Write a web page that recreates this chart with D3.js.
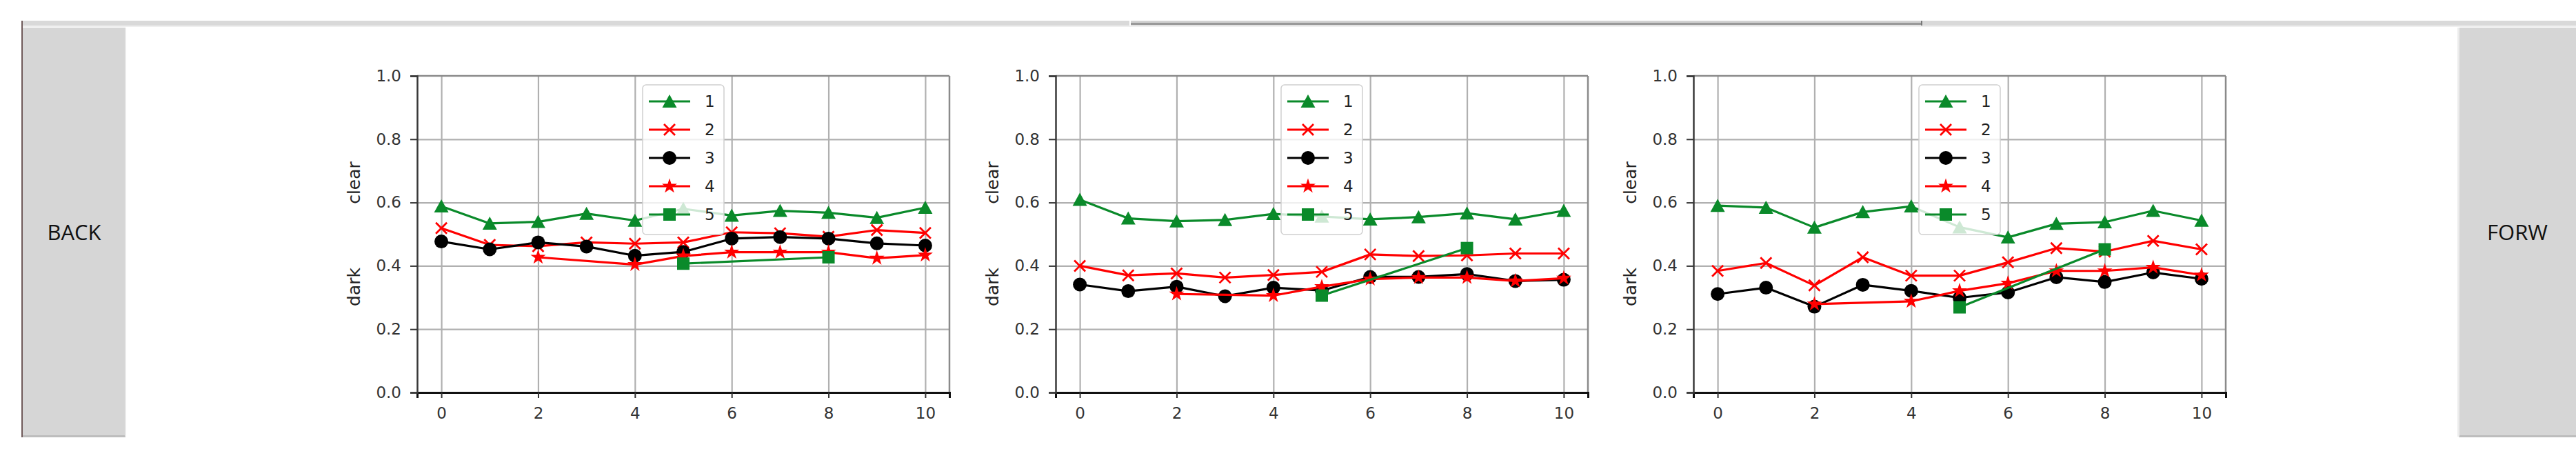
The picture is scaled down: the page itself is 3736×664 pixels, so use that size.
<!DOCTYPE html>
<html>
<head>
<meta charset="utf-8">
<script src="https://cdn.jsdelivr.net/npm/d3@7"></script>
<style>
body{margin:0;background:#fff;overflow:hidden}
text{font-family:"DejaVu Sans",sans-serif}
.btn{font-family:"Open Sans",sans-serif}
</style>
</head>
<body>
<svg id="page" width="3736" height="664"></svg>
<script>
// x positions of each series
const xAll = [0,1,2,3,4,5,6,7,8,9,10];
const xStar = [2,4,5,6,7,8,9,10];
const xSquare = [5,8];
const xTicks = [0,2,4,6,8,10];
const yTicks = [0,0.2,0.4,0.6,0.8,1.0];
const legendLabels = ["1","2","3","4","5"];

// panel 1
const p1s1 = [0.588,0.534,0.539,0.565,0.543,0.580,0.559,0.574,0.568,0.552,0.584];
const p1s2 = [0.519,0.466,0.462,0.474,0.470,0.474,0.506,0.503,0.492,0.513,0.504];
const p1s3 = [0.477,0.452,0.474,0.461,0.432,0.444,0.486,0.491,0.486,0.471,0.464];
const p1s4 = [0.427,0.404,0.431,0.443,0.443,0.443,0.424,0.434];
const p1s5 = [0.407,0.427];
// panel 2
const p2s1 = [0.609,0.550,0.541,0.545,0.564,0.556,0.547,0.554,0.566,0.547,0.574];
const p2s2 = [0.400,0.370,0.376,0.363,0.371,0.381,0.436,0.431,0.433,0.439,0.439];
const p2s3 = [0.341,0.320,0.334,0.304,0.331,0.322,0.365,0.365,0.374,0.352,0.356];
const p2s4 = [0.311,0.306,0.334,0.358,0.363,0.363,0.352,0.361];
const p2s5 = [0.306,0.456];
// panel 3
const p3s1 = [0.590,0.584,0.521,0.570,0.588,0.522,0.490,0.533,0.538,0.574,0.543];
const p3s2 = [0.384,0.409,0.338,0.427,0.369,0.369,0.411,0.456,0.445,0.479,0.452];
const p3s3 = [0.311,0.331,0.271,0.340,0.321,0.299,0.316,0.364,0.349,0.379,0.359];
const p3s4 = [0.279,0.288,0.321,0.345,0.384,0.384,0.395,0.371];
const p3s5 = [0.269,0.452];

const panels = [[p1s1,p1s2,p1s3,p1s4,p1s5],[p2s1,p2s2,p2s3,p2s4,p2s5],[p3s1,p3s2,p3s3,p3s4,p3s5]];
const xsBySeries = [xAll,xAll,xAll,xStar,xSquare];

// styles
const green = "#0a8a2a", red = "#ff0000";
const colors = [green,red,"#000",red,green];
const markers = ["triangle","x","circle","star","square"];

let svg = d3.select("#page");

/* window chrome */
svg.append("rect").attr("x",32).attr("y",30).attr("width",3704).attr("height",7).attr("fill","#d9d9d9");
svg.append("rect").attr("x",32).attr("y",37).attr("width",3704).attr("height",2).attr("fill","#efefef");
svg.append("rect").attr("x",1638).attr("y",30).attr("width",2).attr("height",7).attr("fill","#fff");
svg.append("rect").attr("x",1640).attr("y",30).attr("width",1147).attr("height",3).attr("fill","#d2d2d2");
svg.append("rect").attr("x",1640).attr("y",33).attr("width",1147).attr("height",3).attr("fill","#999");
svg.append("rect").attr("x",2786).attr("y",30).attr("width",2).attr("height",7).attr("fill","#777");

function button(x,w,label){
  svg.append("rect").attr("x",x).attr("y",40).attr("width",w).attr("height",593).attr("fill","#d6d6d6");
  svg.append("rect").attr("x",x).attr("y",631).attr("width",w).attr("height",3).attr("fill","#bdbdbd");
  svg.append("text").attr("class","btn").attr("x",x+w/2).attr("y",336)
    .attr("text-anchor","middle").attr("dominant-baseline","central")
    .attr("font-size",31).attr("fill","#111").text(label);
}
button(33,149,"BACK");
svg.append("rect").attr("x",181).attr("y",40).attr("width",2).attr("height",593).attr("fill","#e9e9e9");
svg.append("rect").attr("x",31).attr("y",30).attr("width",2).attr("height",604).attr("fill","#6f5a5a");
button(3566,170,"FORW");
svg.append("rect").attr("x",3564).attr("y",40).attr("width",3).attr("height",593).attr("fill","#ececec");

/* charts */
const lefts = [605,1531,2456];
const W = 772, plotTop = 110, H = 459;
const lineW = 3.2;

function drawMarker(g,type,color){
  if(type=="circle") g.append("circle").attr("r",10).attr("fill",color);
  else if(type=="x") g.append("path").attr("d","M-8,-8L8,8M-8,8L8,-8").attr("stroke",color).attr("stroke-width",2.8).attr("fill","none");
  else if(type=="triangle") g.append("path").attr("d","M0,-10L10.5,9L-10.5,9Z").attr("fill",color);
  else if(type=="square") g.append("rect").attr("x",-9).attr("y",-9).attr("width",18).attr("height",18).attr("fill",color);
  else g.append("path").attr("d",d3.symbol(d3.symbolStar,150)()).attr("fill",color);
}

panels.forEach((series,pi)=>{
  let g = svg.append("g").attr("transform","translate("+lefts[pi]+","+plotTop+")");
  let x = d3.scaleLinear().domain([-0.5,10.5]).range([0,W]);
  let y = d3.scaleLinear().domain([0,1]).range([H,0]);

  // grid
  let gx = g.append("g").call(d3.axisBottom(x).tickValues(xTicks).tickSize(H).tickFormat(""));
  let gy = g.append("g").call(d3.axisLeft(y).tickValues(yTicks.slice(1,5)).tickSize(-W).tickFormat(""));
  [gx,gy].forEach(a=>{a.select(".domain").remove();a.selectAll("line").attr("stroke","#b0b0b0").attr("stroke-width",2.2);});

  // lines + markers
  series.forEach((vals,si)=>{
    let pts = vals.map((v,k)=>[xsBySeries[si][k],v]);
    g.append("path").datum(pts).attr("fill","none").attr("stroke",colors[si]).attr("stroke-width",lineW)
      .attr("stroke-linejoin","round")
      .attr("d",d3.line().x(d=>x(d[0])).y(d=>y(d[1])));
    pts.forEach(d=>{
      let m = g.append("g").attr("transform","translate("+x(d[0])+","+y(d[1])+")");
      drawMarker(m,markers[si],colors[si]);
    });
  });

  // spines
  g.append("line").attr("x1",0).attr("x2",W).attr("y1",0).attr("y2",0).attr("stroke","#8a8a8a").attr("stroke-width",2.5);
  g.append("line").attr("x1",W).attr("x2",W).attr("y1",0).attr("y2",H).attr("stroke","#8a8a8a").attr("stroke-width",2.5);

  // axes
  let ax = g.append("g").attr("transform","translate(0,"+H+")")
    .call(d3.axisBottom(x).tickValues(xTicks).tickSize(8).tickPadding(14).tickFormat(d3.format("d")));
  let ay = g.append("g").call(d3.axisLeft(y).tickValues(yTicks).tickSize(10).tickPadding(13).tickFormat(d3.format(".1f")));
  [ax,ay].forEach(a=>{
    a.selectAll("text").attr("font-size",23).attr("fill","#333").attr("font-family","DejaVu Sans");
    a.selectAll(".tick line").attr("stroke","#333").attr("stroke-width",2);
  });
  ax.select(".domain").attr("stroke","#111").attr("stroke-width",3);
  ay.select(".domain").attr("stroke","#3a3a3a").attr("stroke-width",2.5);

  // y labels
  g.append("text").attr("transform","translate(-83,155) rotate(-90)").attr("text-anchor","middle")
    .attr("font-size",25).attr("fill","#222").text("clear");
  g.append("text").attr("transform","translate(-83,306) rotate(-90)").attr("text-anchor","middle")
    .attr("font-size",25).attr("fill","#222").text("dark");

  // legend
  let lg = g.append("g").attr("transform","translate("+(W/2-59)+",13)");
  lg.append("rect").attr("width",118).attr("height",217).attr("rx",5)
    .attr("fill","#fff").attr("fill-opacity",0.8).attr("stroke","#d0d0d0").attr("stroke-width",1.5);
  legendLabels.forEach((lab,i)=>{
    let row = lg.append("g").attr("transform","translate(0,"+(24+i*41)+")");
    row.append("line").attr("x1",9).attr("x2",69).attr("stroke",colors[i]).attr("stroke-width",lineW);
    drawMarker(row.append("g").attr("transform","translate(39,0)"),markers[i],colors[i]);
    row.append("text").attr("x",90).attr("dominant-baseline","central").attr("font-size",23).attr("fill","#222").text(lab);
  });
});
</script>
</body>
</html>
